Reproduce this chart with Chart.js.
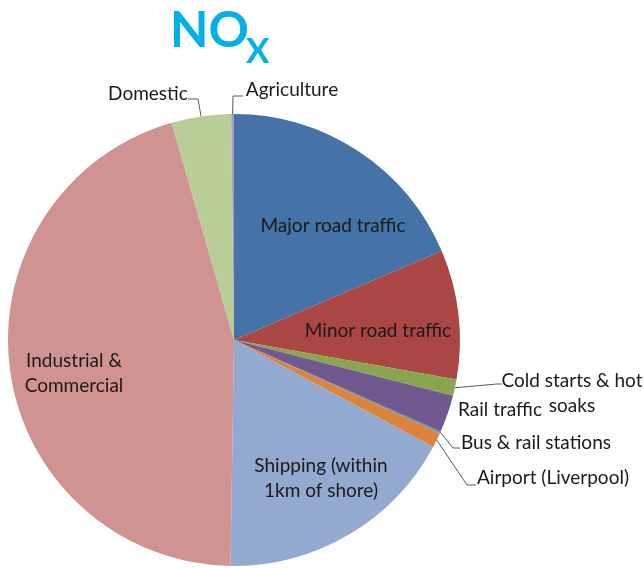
<!DOCTYPE html>
<html>
<head>
<meta charset="utf-8">
<title>NOx sources</title>
<script src="https://cdn.jsdelivr.net/npm/chart.js@4.4.1/dist/chart.umd.min.js"></script>
<style>
  html, body { margin: 0; padding: 0; background: #fff; }
  #noxChart { display: block; }
</style>
</head>
<body>
<canvas id="noxChart" width="644" height="568"></canvas>
<script>
// Emission sources, clockwise from 12 o'clock
const sources = [
    'Major road traffic',
    'Minor road traffic',
    'Cold starts & hot soaks',
    'Rail traffic',
    'Bus & rail stations',
    'Airport (Liverpool)',
    'Shipping (within 1km of shore)',
    'Industrial & Commercial',
    'Domestic',
    'Agriculture'
];

// Share of total NOx (%)
const shares = [18.55, 9.25, 1.17, 2.67, 0.1, 1.1, 17.4, 45.3, 4.25, 0.2];

const sliceColours = [
    '#4572A7', '#AA4643', '#89A54E', '#71588F', '#4198AF',
    '#DB843D', '#93A9CF', '#D19392', '#B9CD96', '#A99BBD'
];

// How each label is broken over lines
const labelLines = [
    ['Major road traffic'],
    ['Minor road traffic'],
    ['Cold starts & hot', 'soaks'],
    ['Rail traffic'],
    ['Bus & rail stations'],
    ['Airport (Liverpool)'],
    ['Shipping (within', '1km of shore)'],
    ['Industrial &', 'Commercial'],
    ['Domestic'],
    ['Agriculture']
];

// Where the labels sit, and the bends of their leader lines (if any)
const labelSpots = [
    { x: 333, y: 226 },
    { x: 378, y: 331 },
    { x: 572, y: 381, leader: [[497, 384], [502, 384]] },
    { x: 500, y: 410 },
    { x: 536, y: 443, leader: [[453, 448], [460, 448]] },
    { x: 553, y: 478, leader: [[467, 485], [476, 485]] },
    { x: 321, y: 466 },
    { x: 74, y: 361 },
    { x: 148, y: 94, leader: [[198, 99], [188, 99]] },
    { x: 292, y: 90, leader: [[233, 96], [243, 96]] }
];

const lineGap = 25;
const labelFont = '19px Lato, sans-serif';

const sliceLabels = {
    id: 'sliceLabels',
    afterDatasetsDraw(chart) {
        const ctx = chart.ctx;
        const arcs = chart.getDatasetMeta(0).data;
        ctx.save();

        // leader lines from the outer edge of the slice
        ctx.strokeStyle = '#595959';
        ctx.lineWidth = 1;
        arcs.forEach((arc, i) => {
            const spot = labelSpots[i];
            if (!spot.leader) return;
            const mid = (arc.startAngle + arc.endAngle) / 2;
            ctx.beginPath();
            ctx.moveTo(arc.x + Math.cos(mid) * arc.outerRadius, arc.y + Math.sin(mid) * arc.outerRadius);
            spot.leader.forEach(p => ctx.lineTo(p[0], p[1]));
            ctx.stroke();
        });

        ctx.font = labelFont;
        ctx.fillStyle = '#1a1a1a';
        ctx.textAlign = 'center';
        ctx.textBaseline = 'middle';
        labelLines.forEach((lines, i) => {
            const spot = labelSpots[i];
            lines.forEach((txt, k) => ctx.fillText(txt, spot.x, spot.y + k * lineGap));
        });

        // title: NO with subscript x
        ctx.fillStyle = '#00B0E6';
        ctx.textAlign = 'left';
        ctx.textBaseline = 'alphabetic';
        ctx.font = 'bold 50px Lato, sans-serif';
        ctx.fillText('NO', 170, 47);
        ctx.font = 'bold 35px Lato, sans-serif';
        ctx.fillText('X', 246, 63);

        ctx.restore();
    }
};

new Chart(document.getElementById('noxChart'), {
    type: 'pie',
    data: {
        labels: sources,
        datasets: [{
            data: shares,
            backgroundColor: sliceColours,
            borderWidth: 0
        }]
    },
    options: {
        responsive: false,
        animation: false,
        layout: { padding: { left: 8, right: 184, top: 114, bottom: 2 } },
        plugins: {
            legend: { display: false },
            tooltip: { enabled: false }
        }
    },
    plugins: [sliceLabels]
});
</script>
</body>
</html>
